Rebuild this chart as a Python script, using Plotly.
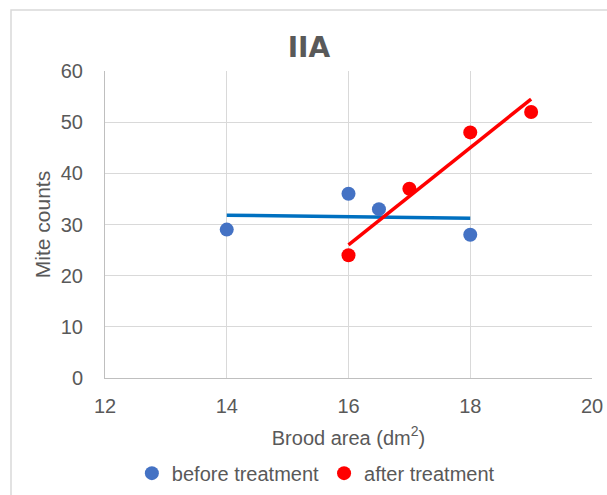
import numpy as np
import plotly.graph_objects as go

before_x = [14, 16, 16.5, 18]
before_y = [29, 36, 33, 28]
after_x = [16, 17, 18, 19]
after_y = [24, 37, 48, 52]

x_ticks = [12, 14, 16, 18, 20]
y_ticks = [0, 10, 20, 30, 40, 50, 60]

BLUE = "#4472C4"
BLUE_LINE = "#0070C0"
RED = "#FF0000"
TXT = "#595959"
FONT = "Liberation Sans, Arial, sans-serif"


def trend(xs, ys):
    k, b = np.polyfit(xs, ys, 1)
    xx = [min(xs), max(xs)]
    return xx, [k * v + b for v in xx]


fig = go.Figure()
bx, by = trend(before_x, before_y)
ax, ay = trend(after_x, after_y)
fig.add_trace(go.Scatter(x=bx, y=by, mode="lines", line=dict(color=BLUE_LINE, width=3.5),
                         showlegend=False, hoverinfo="skip"))
fig.add_trace(go.Scatter(x=ax, y=ay, mode="lines", line=dict(color=RED, width=3.5),
                         showlegend=False, hoverinfo="skip"))
fig.add_trace(go.Scatter(x=before_x, y=before_y, mode="markers", name="before treatment",
                         marker=dict(color=BLUE, size=14)))
fig.add_trace(go.Scatter(x=after_x, y=after_y, mode="markers", name="after treatment",
                         marker=dict(color=RED, size=14)))

fig.update_layout(
    width=607, height=495,
    margin=dict(l=105, r=15, t=71, b=117, autoexpand=False),
    paper_bgcolor="white", plot_bgcolor="white",
    font=dict(family=FONT, size=20, color=TXT),
    title=dict(text="<b>IIA</b>", x=0.509, xanchor="center", y=0.904, yanchor="middle",
               font=dict(family="DejaVu Sans, sans-serif", size=28, color=TXT)),
    legend=dict(orientation="h", x=0.433, xanchor="center", y=-0.31, yanchor="middle",
                font=dict(size=20, color=TXT), itemwidth=30, tracegroupgap=0,
                bgcolor="rgba(0,0,0,0)"),
    shapes=[dict(type="rect", xref="paper", yref="paper", x0=-0.193, y0=-0.6, x1=1.3, y1=1.1987,
                 line=dict(color="#d9d9d9", width=1.5), layer="below")],
)
fig.update_xaxes(range=[12, 20], tickvals=x_ticks, showgrid=True, gridcolor="#d9d9d9", gridwidth=1,
                 showline=True, linecolor="#bfbfbf", linewidth=1, zeroline=False, automargin=False,
                 ticks="outside", ticklen=10, tickcolor="rgba(0,0,0,0)",
                 title=dict(text="Brood area (dm<sup>2</sup>)", standoff=14, font=dict(size=20)))
fig.update_yaxes(range=[0, 60], tickvals=y_ticks, showgrid=True, gridcolor="#d9d9d9", gridwidth=1,
                 showline=True, linecolor="#bfbfbf", linewidth=1, zeroline=False, automargin=False,
                 ticks="outside", ticklen=17, tickcolor="rgba(0,0,0,0)",
                 title=dict(text="Mite counts", standoff=4, font=dict(size=21)))

fig.write_html("out.html")
